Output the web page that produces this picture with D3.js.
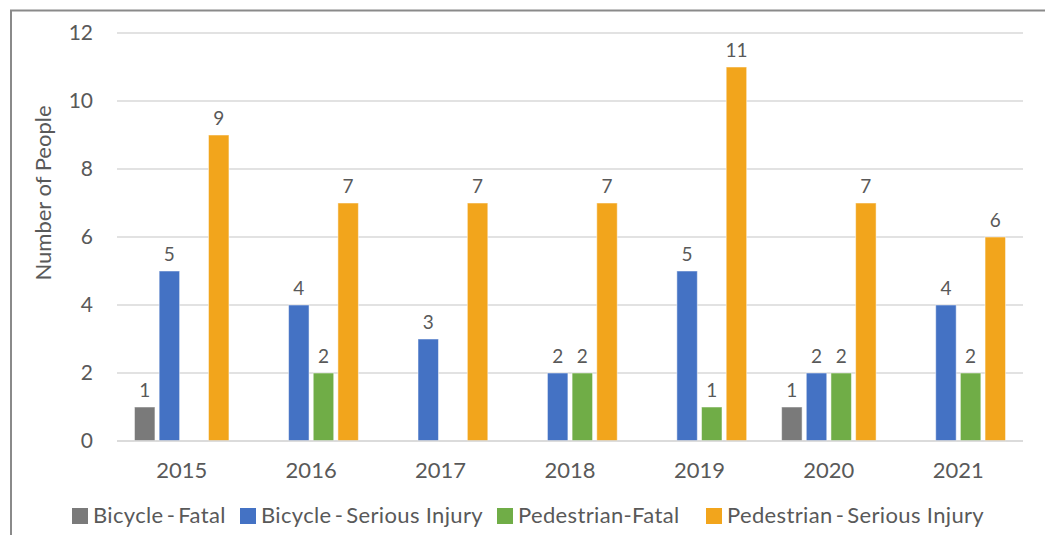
<!DOCTYPE html>
<html>
<head>
<meta charset="utf-8">
<script src="https://cdn.jsdelivr.net/npm/d3@7"></script>
<style>
  body { margin: 0; background: #fff; }
  text { font-family: Lato, "Open Sans", sans-serif; fill: #595959; }
</style>
</head>
<body>
<svg id="chart" width="1045" height="535"></svg>
<script>
const years = ['2015', '2016', '2017', '2018', '2019', '2020', '2021']
const seriesNames = ['Bicycle\u2009-\u2009Fatal', 'Bicycle\u2009-\u2009Serious Injury', 'Pedestrian-Fatal', 'Pedestrian\u2009-\u2009Serious Injury']
const bicycleFatal = [1, 0, 0, 0, 0, 1, 0]
const bicycleSerious = [5, 4, 3, 2, 5, 2, 4]
const pedestrianFatal = [0, 2, 0, 2, 1, 2, 2]
const pedestrianSerious = [9, 7, 7, 7, 11, 7, 6]
const yTicks = [0, 2, 4, 6, 8, 10, 12]
const colors = ['#7a7a7a', '#4472c4', '#70ad47', '#f2a51c']

const allSeries = [bicycleFatal, bicycleSerious, pedestrianFatal, pedestrianSerious]

const svg = d3.select('#chart')

// frame
svg.append('path')
    .attr('d', 'M11,535 L11,10.5 L1045,10.5')
    .attr('fill', 'none')
    .attr('stroke', '#8a8a8a')
    .attr('stroke-width', 2)

const x = d3.scaleBand().domain(years).range([117, 1023]).paddingInner(0.27).paddingOuter(0.135)
const xs = d3.scaleBand().domain(d3.range(4)).range([0, x.bandwidth()]).paddingInner(0.17)
const y = d3.scaleLinear().domain([0, 12]).range([441, 33])

// gridlines
svg.append('g')
    .selectAll('line')
    .data(yTicks)
    .enter()
    .append('line')
    .attr('x1', 117)
    .attr('x2', 1023)
    .attr('y1', d => y(d))
    .attr('y2', d => y(d))
    .attr('stroke', '#d9d9d9')
    .attr('stroke-width', 1.5)

// y tick labels
svg.append('g')
    .selectAll('text')
    .data(yTicks)
    .enter()
    .append('text')
    .attr('x', 93)
    .attr('y', d => y(d))
    .attr('dy', '0.35em')
    .attr('text-anchor', 'end')
    .style('font-size', '21px')
    .text(d => d)

// y axis title
svg.append('text')
    .attr('transform', 'translate(51,193) rotate(-90)')
    .attr('text-anchor', 'middle')
    .style('font-size', '22px')
    .text('Number of People')

// bars
const groups = svg.append('g')
    .selectAll('g')
    .data(years)
    .enter()
    .append('g')
    .attr('transform', d => `translate(${x(d)},0)`)

groups.each(function(year, i) {
    const g = d3.select(this)
    const vals = allSeries.map((s, k) => ({k: k, v: s[i]})).filter(d => d.v > 0)
    g.selectAll('rect')
        .data(vals)
        .enter()
        .append('rect')
        .attr('x', d => xs(d.k))
        .attr('y', d => y(d.v))
        .attr('width', xs.bandwidth())
        .attr('height', d => y(0) - y(d.v))
        .attr('fill', d => colors[d.k])
        .attr('stroke', '#fff')
        .attr('stroke-opacity', 0.5)
        .attr('stroke-width', 1)
    g.selectAll('text')
        .data(vals)
        .enter()
        .append('text')
        .attr('x', d => xs(d.k) + xs.bandwidth() / 2)
        .attr('y', d => y(d.v) - 10)
        .attr('text-anchor', 'middle')
        .style('font-size', '19px')
        .text(d => d.v)
})

// x axis line
svg.append('line')
    .attr('x1', 117)
    .attr('x2', 1023)
    .attr('y1', y(0))
    .attr('y2', y(0))
    .attr('stroke', '#d9d9d9')
    .attr('stroke-width', 1.5)

// x tick labels
svg.append('g')
    .selectAll('text')
    .data(years)
    .enter()
    .append('text')
    .attr('x', d => x(d) + x.bandwidth() / 2)
    .attr('y', 478)
    .attr('text-anchor', 'middle')
    .style('font-size', '22px')
    .text(d => d)

// legend
const legendX = [72, 240, 497, 706]
const legend = svg.append('g')
    .selectAll('g')
    .data(seriesNames)
    .enter()
    .append('g')
    .attr('transform', (d, i) => `translate(${legendX[i]},508)`)
legend.append('rect')
    .attr('width', 16)
    .attr('height', 16)
    .attr('fill', (d, i) => colors[i])
legend.append('text')
    .attr('x', 21)
    .attr('y', 15)
    .style('font-size', '22px')
    .style('letter-spacing', '0.35px')
    .text(d => d)
</script>
</body>
</html>
